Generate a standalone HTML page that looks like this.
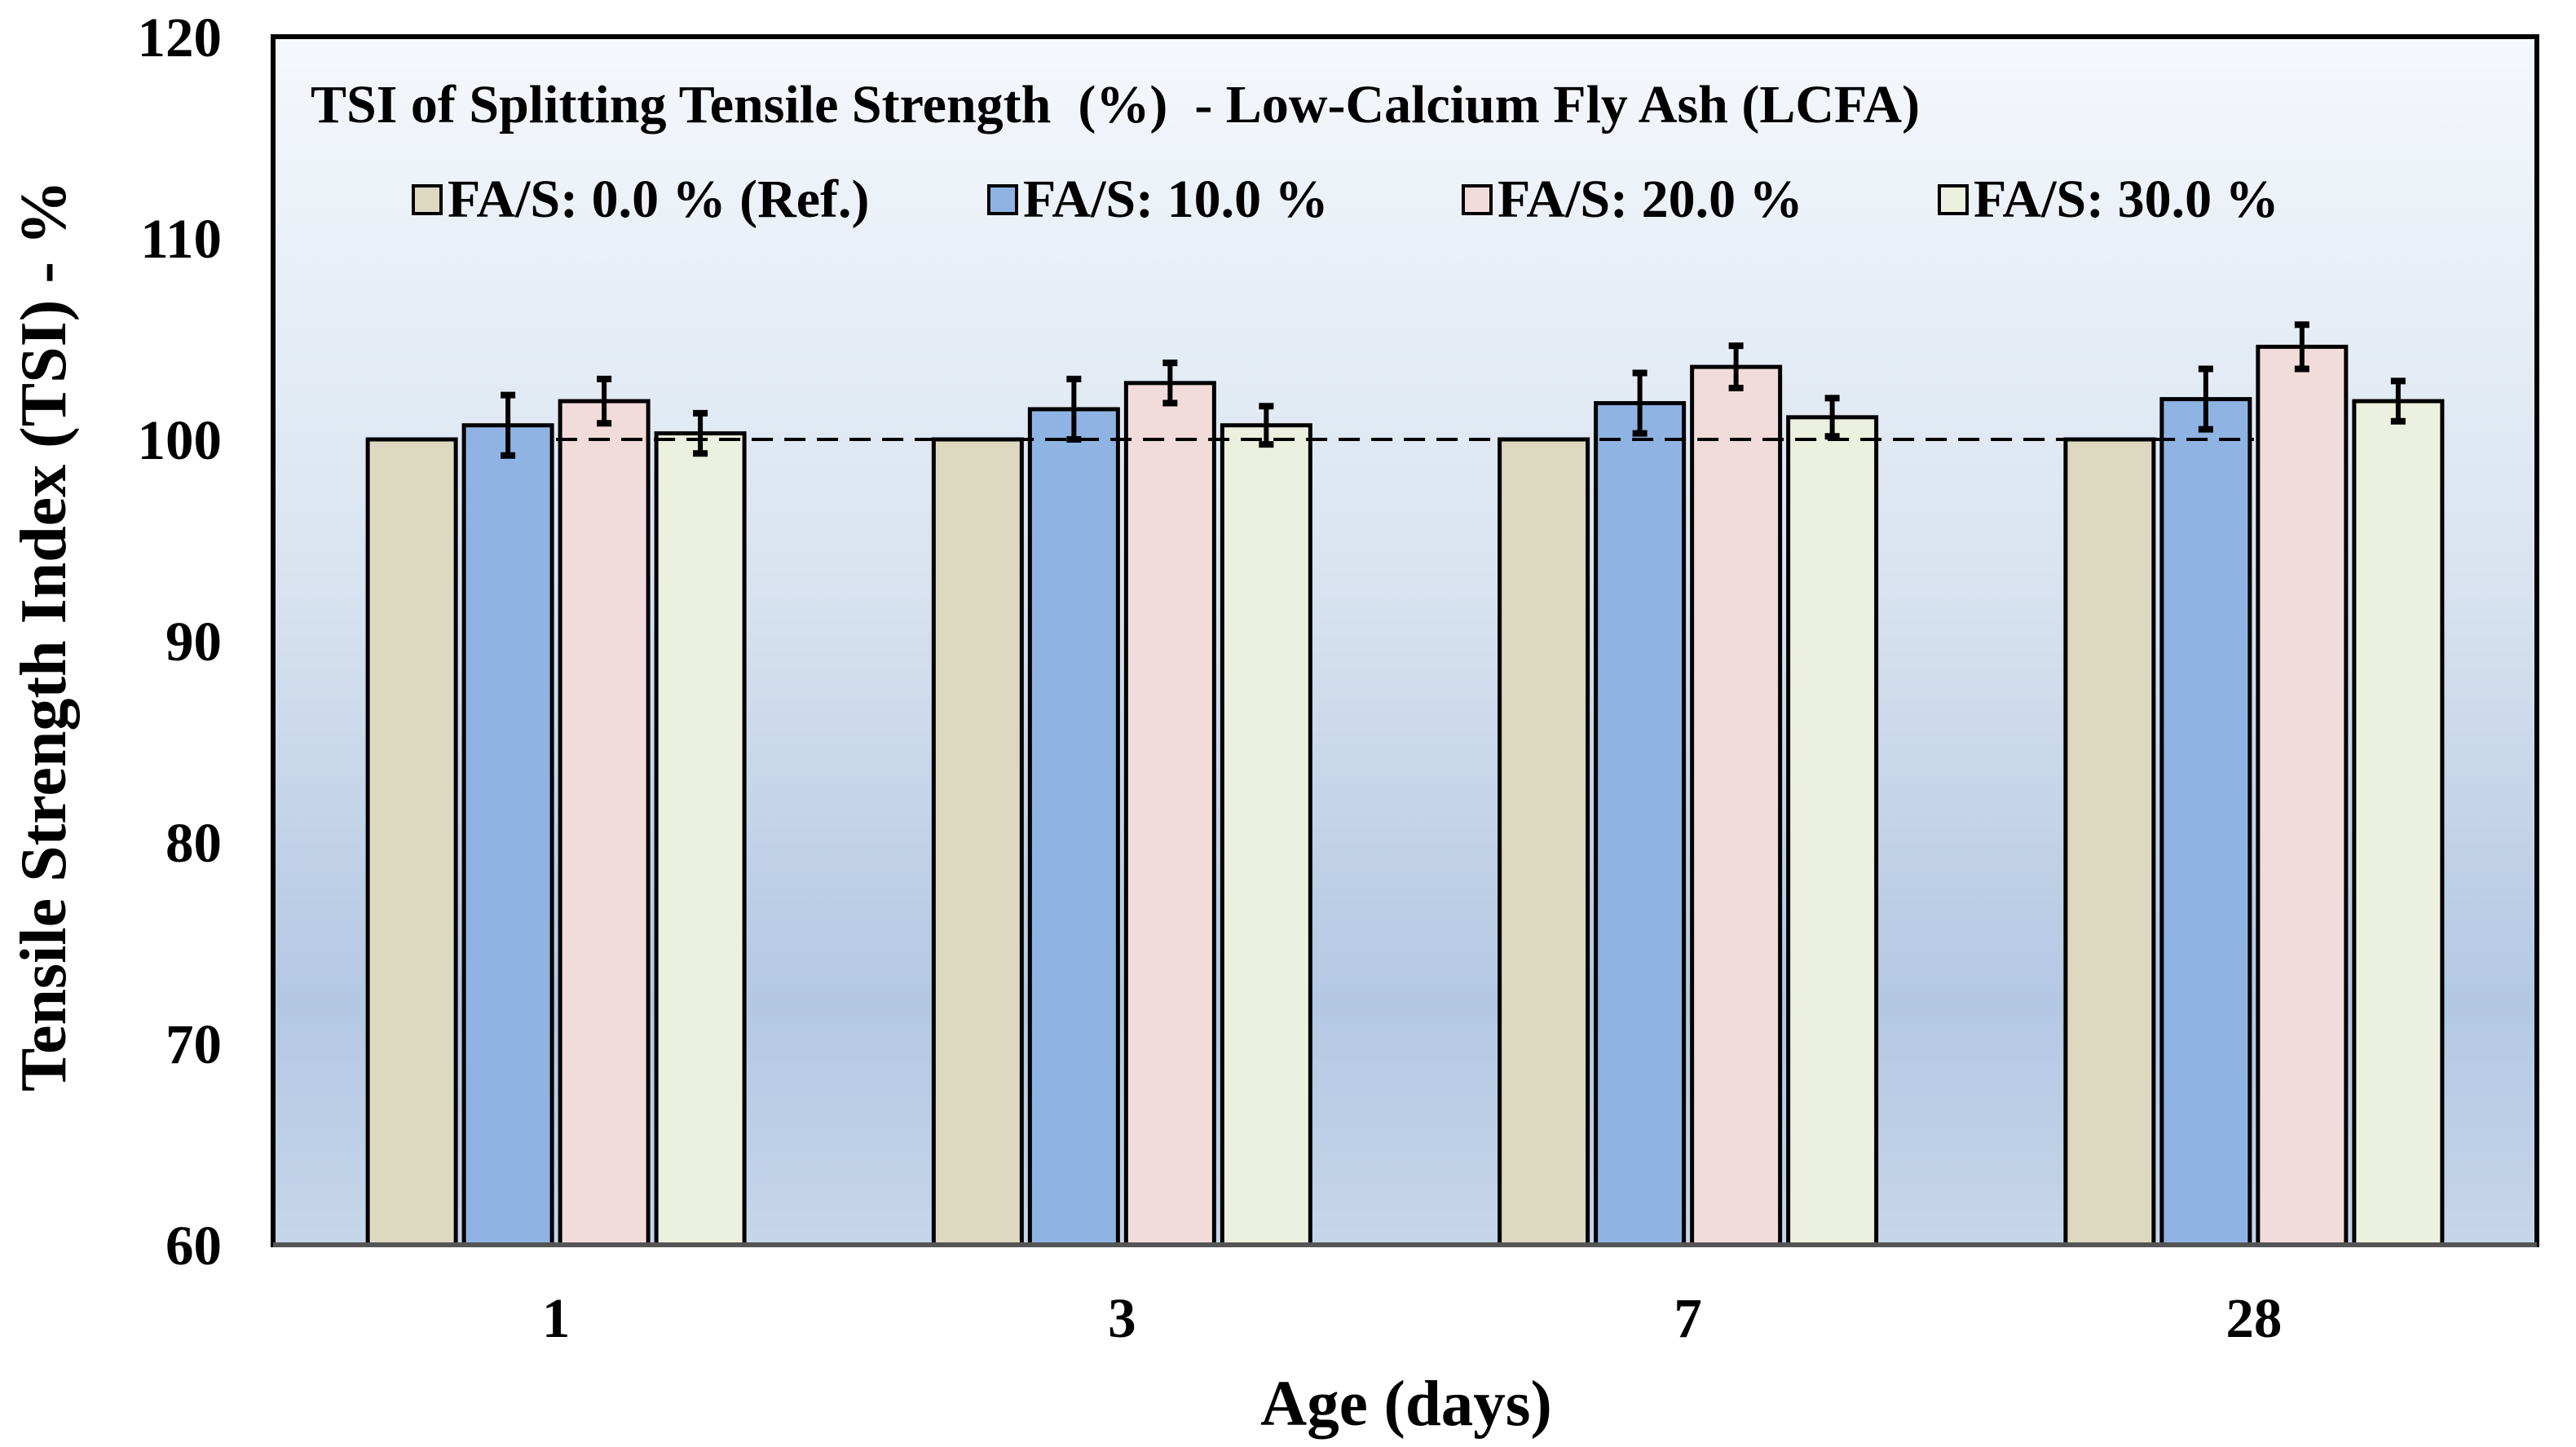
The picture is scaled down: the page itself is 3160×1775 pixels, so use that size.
<!DOCTYPE html>
<html><head><meta charset="utf-8"><style>
html,body{margin:0;padding:0;background:#fff;}
svg{display:block;}
text{font-family:"Liberation Serif",serif;font-weight:bold;fill:#000;white-space:pre;}
</style></head><body>
<svg id="chart" width="3160" height="1775" viewBox="0 0 3160 1775">
<defs>
<linearGradient id="bg" x1="0" y1="0" x2="0" y2="1">
<stop offset="0" stop-color="#f5f8fc"/>
<stop offset="0.45" stop-color="#d9e3f0"/>
<stop offset="0.8" stop-color="#b3c8e3"/>
<stop offset="1" stop-color="#c6d6ea"/>
</linearGradient>
</defs>
<rect x="335" y="45" width="2777" height="1482" fill="url(#bg)"/>
<g id="bars"></g>
<g id="errs"></g>
<line id="refline" stroke="#000" stroke-width="4" stroke-dasharray="26,14"/>
<rect x="335" y="45" width="2777" height="1482" fill="none" stroke="#000" stroke-width="6"/>
<line x1="335" y1="1527" x2="3112" y2="1527" stroke="#555" stroke-width="6"/>
<g id="yticks"></g>
<g id="xticks"></g>
<text x="381" y="150" font-size="66" xml:space="preserve">TSI of Splitting Tensile Strength  (%)  - Low-Calcium Fly Ash (LCFA)</text>
<g id="legend"></g>
<text x="1725" y="1748" font-size="79" text-anchor="middle">Age (days)</text>
<text transform="translate(80,780) rotate(-90)" font-size="80" text-anchor="middle">Tensile Strength Index (TSI) - %</text>
</svg>
<script>
const categories = ["1","3","7","28"];
const seriesNames = ["FA/S: 0.0 % (Ref.)","FA/S: 10.0 %","FA/S: 20.0 %","FA/S: 30.0 %"];
const ref = [100,100,100,100];
const fa10 = [100.7,101.5,101.8,102.0];
const fa20 = [101.9,102.8,103.6,104.6];
const fa30 = [100.3,100.7,101.1,101.9];
const err10 = [1.5,1.5,1.5,1.5];
const err20 = [1.1,1.0,1.05,1.1];
const err30 = [1.0,0.95,0.95,1.0];
const errRef = [0,0,0,0];
const yTicks = [60,70,80,90,100,110,120];
const colors = ["#ddd8c0","#8fb4e3","#f2dcdb","#ebf1de"];

const NS="http://www.w3.org/2000/svg";
const L=335,R=3112,T=45,B=1527,ymin=60,ymax=120;
const y=v=>B-(v-ymin)/(ymax-ymin)*(B-T);
const band=(R-L)/categories.length;
const xc=i=>L+band*(i+0.5);
const pitch=118,bw=108;
const series=[ref,fa10,fa20,fa30], errs=[errRef,err10,err20,err30];
function mk(tag,attrs,parent){const e=document.createElementNS(NS,tag);for(const k in attrs)e.setAttribute(k,attrs[k]);parent.appendChild(e);return e;}
const gb=document.getElementById('bars'), ge=document.getElementById('errs');
series.forEach((s,si)=>{
  s.forEach((v,ci)=>{
    const cx=xc(ci)+(si-1.5)*pitch;
    const r=mk('rect',{x:cx-bw/2,y:y(v),width:bw,height:B-y(v),fill:colors[si],stroke:'#000','stroke-width':5},gb);
    
    
    const e=errs[si][ci];
    if(e>0){
      const g=mk('g',{stroke:'#000','stroke-width':6},ge);
      
      
      mk('line',{x1:cx,x2:cx,y1:y(v+e),y2:y(v-e)},g);
      mk('line',{x1:cx-9,x2:cx+9,y1:y(v+e),y2:y(v+e),'stroke-width':8},g);
      mk('line',{x1:cx-9,x2:cx+9,y1:y(v-e),y2:y(v-e),'stroke-width':8},g);
    }
  });
});
const rl=document.getElementById('refline');
rl.setAttribute('x1',xc(0));rl.setAttribute('x2',xc(categories.length-1));
rl.setAttribute('y1',y(100));rl.setAttribute('y2',y(100));
const gy=document.getElementById('yticks');
yTicks.forEach(t=>{
  const tx=mk('text',{x:272,y:y(t)+24,'font-size':69,'text-anchor':'end'},gy);
  tx.textContent=t;
  
  
});
const gx=document.getElementById('xticks');
categories.forEach((c,i)=>{
  const tx=mk('text',{x:xc(i),y:1640,'font-size':69,'text-anchor':'middle'},gx);
  tx.textContent=c;
  
  
});
const lg=document.getElementById('legend');
const lx=[507,1213,1795,2379];
seriesNames.forEach((n,i)=>{
  const g=mk('g',{},lg);
  
  
  mk('rect',{x:lx[i],y:228,width:34,height:34,fill:colors[i],stroke:'#000','stroke-width':4},g);
  const t=mk('text',{x:lx[i]+42,y:266,'font-size':66},g);
  t.textContent=n;
});
</script>
</body></html>
